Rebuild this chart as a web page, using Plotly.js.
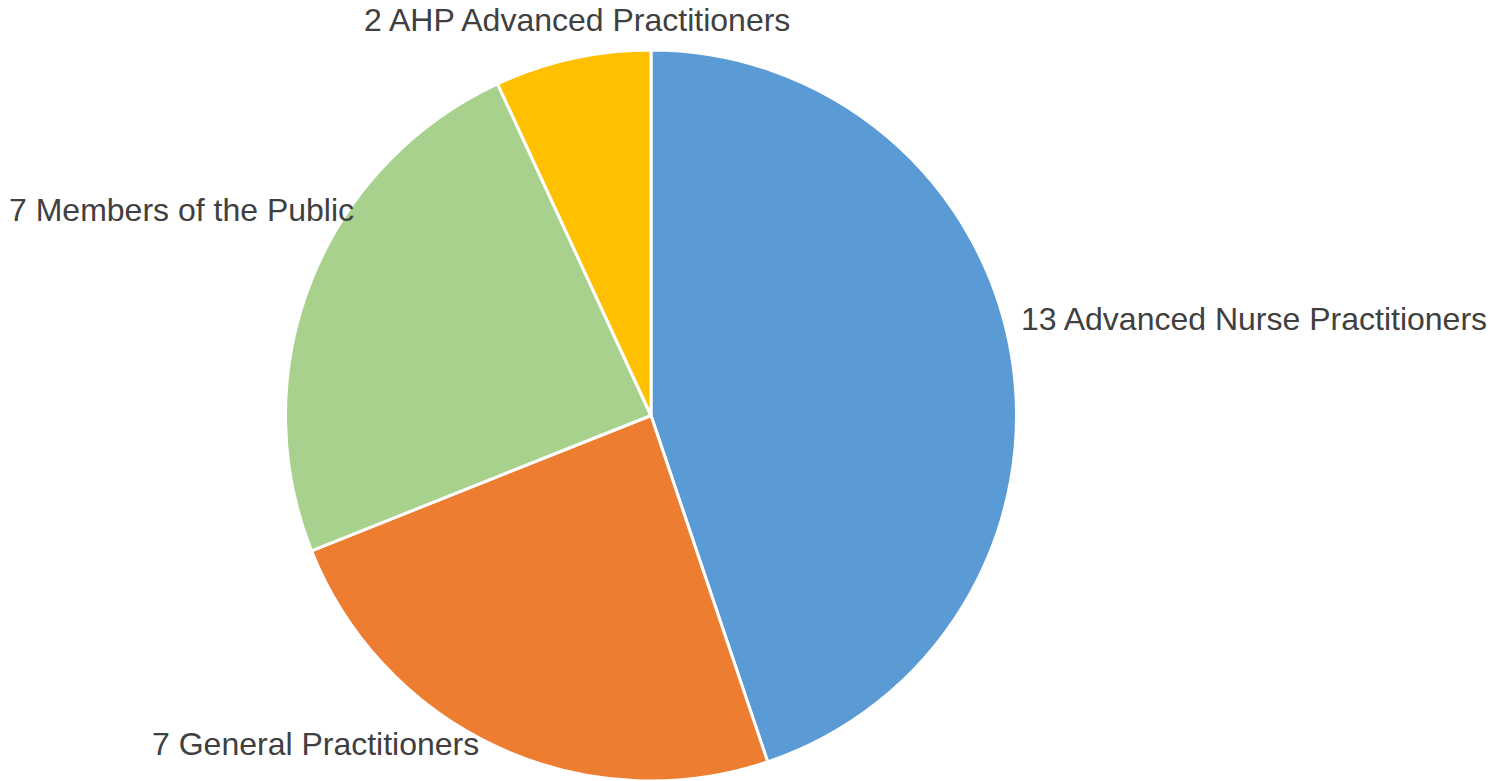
<!DOCTYPE html>
<html>
<head>
<meta charset="utf-8">
<script src="https://cdn.plot.ly/plotly-3.0.1.min.js"></script>
<style>html,body{margin:0;padding:0;background:#fff;}#chart{width:1509px;height:781px;}</style>
</head>
<body>
<div id="chart"></div>
<script>
const categories = ["Advanced Nurse Practitioners", "General Practitioners", "Members of the Public", "AHP Advanced Practitioners"];
const counts = [13, 7, 7, 2];
const colors = ["#5B9BD5", "#ED7D31", "#A9D18E", "#FFC000"];
const labelText = categories.map((c, i) => counts[i] + " " + c);

const W = 1509, H = 781;
const cx = 651, cy = 416, r = 366;

const trace = {
  type: "pie",
  values: counts,
  labels: categories,
  sort: false,
  direction: "clockwise",
  rotation: 0,
  textinfo: "none",
  hoverinfo: "label+value",
  marker: { colors: colors, line: { color: "#FFFFFF", width: 3 } },
  domain: { x: [(cx - r) / W, (cx + r) / W], y: [(H - cy - r) / H, (H - cy + r) / H] },
  showlegend: false
};

const labelPos = [
  { x: 1019, y: 319, xanchor: "left" },
  { x: 150, y: 744, xanchor: "left" },
  { x: 7, y: 210, xanchor: "left" },
  { x: 577, y: 20, xanchor: "center" }
];

const annotations = labelText.map((t, i) => ({
  text: t,
  xref: "paper", yref: "paper",
  x: labelPos[i].x / W, y: 1 - labelPos[i].y / H,
  xanchor: labelPos[i].xanchor, yanchor: "middle",
  showarrow: false,
  font: { family: "Liberation Sans", size: 32, color: "#404040" }
}));

const layout = {
  width: W, height: H,
  margin: { l: 0, r: 0, t: 0, b: 0 },
  paper_bgcolor: "#FFFFFF",
  annotations: annotations
};

Plotly.newPlot("chart", [trace], layout, { displayModeBar: false, staticPlot: true });
</script>
</body>
</html>
